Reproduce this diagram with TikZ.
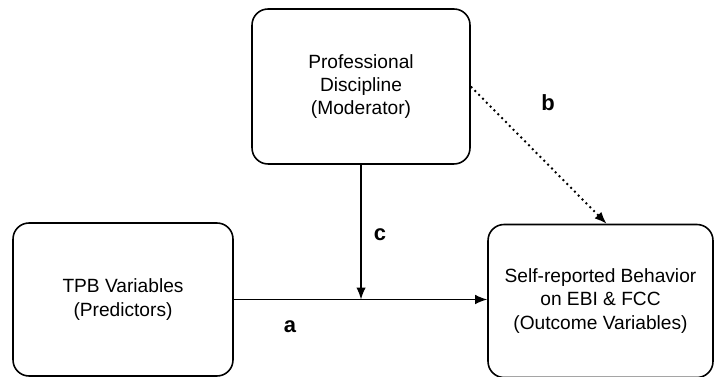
\documentclass[tikz,border=0pt]{standalone}
\usepackage{fontspec}
\setmainfont{Liberation Sans}
\usetikzlibrary{positioning,arrows.meta}

\begin{document}
\begin{tikzpicture}[
    x=0.02cm, y=-0.02cm,
    font=\fontsize{10.9}{13.2}\selectfont,
    box/.style={rectangle, draw, rounded corners=0.32cm, line width=0.9pt, align=center, inner sep=0pt},
    arr/.style={-{Latex[length=2.4mm,width=1.9mm]}, line width=0.8pt},
    dotarr/.style={-{Latex[length=2.4mm,width=1.9mm]}, line width=1.1pt, dotted},
    lab/.style={font=\fontsize{12.5}{15}\selectfont\bfseries, inner sep=1pt}
]
\useasboundingbox (0,0) rectangle (715,377);

% boxes
\node[box, minimum width=4.36cm, minimum height=3.1cm] (mod) at (361,86.5)
    {Professional\\Discipline\\(Moderator)};
\node[box, minimum width=4.4cm, minimum height=3.06cm] (tpb) at (123,299.5)
    {TPB Variables\\(Predictors)};
\node[box, minimum width=4.5cm, minimum height=3.06cm] (outc) at (600.5,301)
    {Self-reported Behavior\\on EBI \& FCC\\(Outcome Variables)};

% labels
\node[lab] (la) at (290,327) {a};
\node[lab] (lb) at (548,103) {b};
\node[lab] (lc) at (380,235) {c};

% connectors
\coordinate (join) at (mod.south |- tpb.east);
\draw[arr] (tpb.east) -- (tpb.east -| outc.west);
\draw[arr] (mod.south) -- (join);
\draw[dotarr] (mod.east) -- ([xshift=0.12cm]outc.north);

\end{tikzpicture}
\end{document}
